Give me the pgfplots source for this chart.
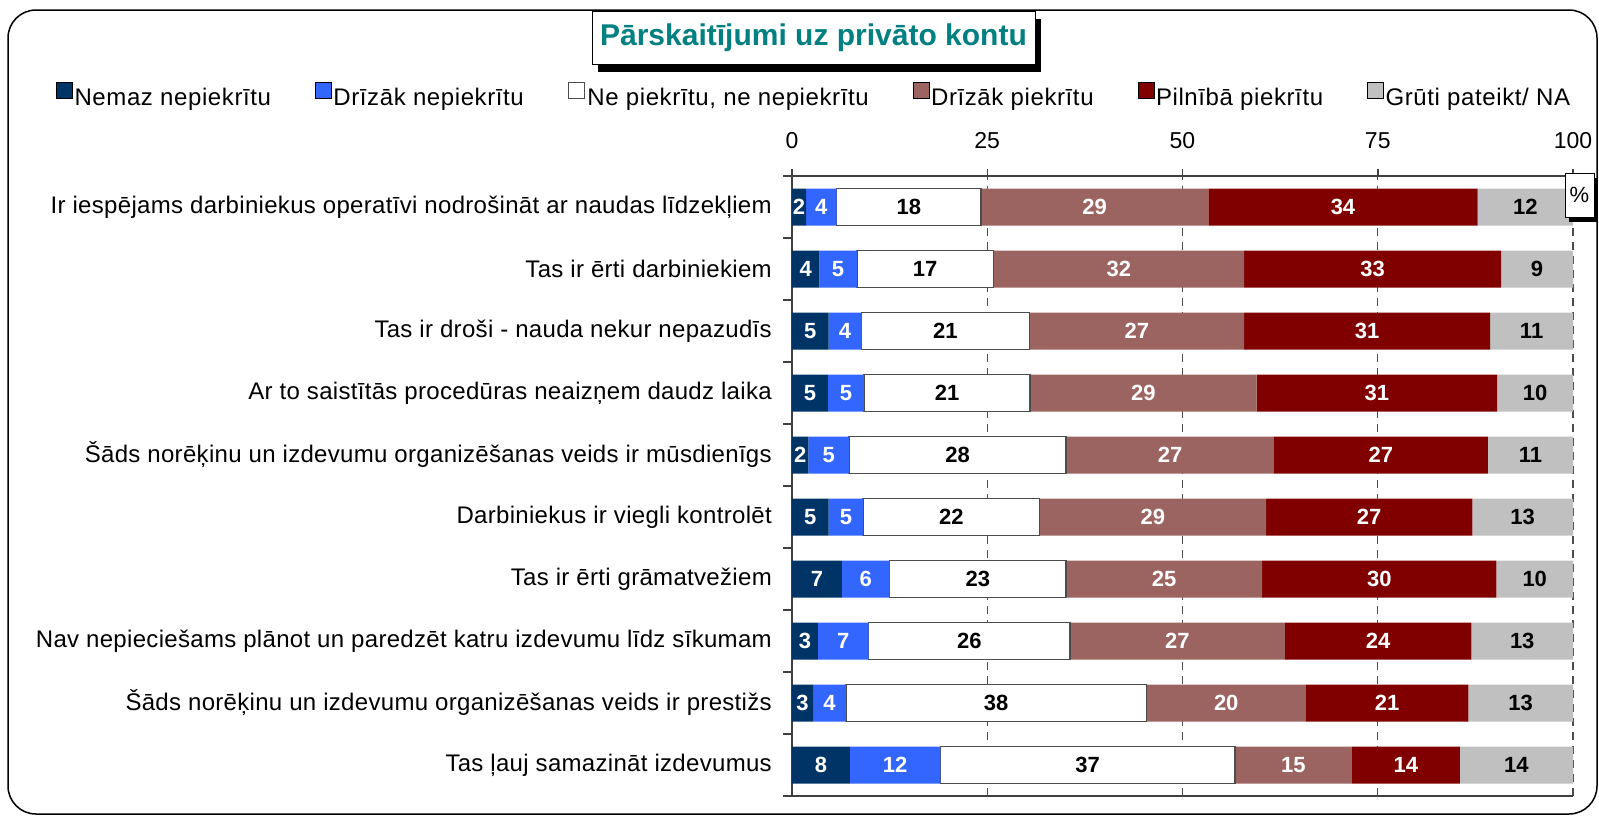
\documentclass[border=0pt]{standalone}
\usepackage{pgfplots}
\pgfplotsset{compat=1.18}
\usepackage{pgfplotstable}
\usepackage{fontspec}
\setmainfont{Liberation Sans}

\definecolor{c1}{HTML}{003366}
\definecolor{c2}{HTML}{3366FF}
\definecolor{c4}{HTML}{9C6461}
\definecolor{c5}{HTML}{800000}
\definecolor{c6}{HTML}{C0C0C0}
\definecolor{titlec}{HTML}{008080}

% idx: 10 = top row
\pgfplotstableread{
idx a b c d e f la lb lc ld le lf
10 1.8 3.9 18.5 29.1 34.5 12.2 2 4 18 29 34 12
9 3.5 4.8 17.5 32.1 32.9 9.2 4 5 17 32 33 9
8 4.7 4.2 21.5 27.5 31.5 10.6 5 4 21 27 31 11
7 4.6 4.6 21.3 29.0 30.8 9.7 5 5 21 29 31 10
6 2.1 5.2 27.8 26.6 27.4 10.9 2 5 28 27 27 11
5 4.7 4.4 22.6 29.0 26.4 12.9 5 5 22 29 27 13
4 6.4 6.1 22.6 25.1 30.0 9.8 7 6 23 25 30 10
3 3.3 6.5 25.8 27.5 23.9 13.0 3 7 26 27 24 13
2 2.7 4.2 38.5 20.4 20.8 13.4 3 4 38 20 21 13
1 7.4 11.6 37.7 15.0 13.8 14.5 8 12 37 15 14 14
}\data

\pgfplotsset{
  seg/.style n args={2}{
    draw=none,
    nodes near coords,
    point meta=explicit symbolic,
    every node near coord/.append style={anchor=center,
      text=#2, font=\fontsize{22}{26}\selectfont\bfseries},
  },
  sq/.style={legend image code/.code={\draw[##1] (0pt,-1pt) rectangle (16pt,15pt);}},
}

\begin{document}
\begin{tikzpicture}[x=1pt,y=1pt]
\useasboundingbox (0,0) rectangle (1599,-817);
\draw[line width=1.5pt, rounded corners=28pt] (8,-10) rectangle (1597,-814);

\begin{axis}[
  at={(792pt,-176pt)}, anchor=north west,
  scale only axis, width=781pt, height=620pt,
  xbar stacked, bar width=37pt,
  xmin=0, xmax=100, ymin=0.5, ymax=10.5,
  xtick={0,25,50,75,100}, xtick pos=right, xticklabel pos=right,
  xticklabel style={font=\fontsize{23}{27}\selectfont, inner sep=0pt, anchor=base, yshift=21pt},
  /pgf/number format/assume math mode=true,
  ytick={1,...,10}, ytick pos=left,
  yticklabels={
    Tas ļauj samazināt izdevumus,
    Šāds norēķinu un izdevumu organizēšanas veids ir prestižs,
    Nav nepieciešams plānot un paredzēt katru izdevumu līdz sīkumam,
    Tas ir ērti grāmatvežiem,
    Darbiniekus ir viegli kontrolēt,
    Šāds norēķinu un izdevumu organizēšanas veids ir mūsdienīgs,
    Ar to saistītās procedūras neaizņem daudz laika,
    Tas ir droši - nauda nekur nepazudīs,
    Tas ir ērti darbiniekiem,
    Ir iespējams darbiniekus operatīvi nodrošināt ar naudas līdzekļiem},
  yticklabel style={font=\fontsize{24}{28}\selectfont\addfontfeatures{LetterSpace=1.3},
    inner sep=0pt, anchor=east, xshift=-13pt},
  minor ytick={0.5,1.5,...,10.5},
  major y tick style={draw=none},
  minor y tick style={line width=1.5pt, black!75},
  major x tick style={line width=1.5pt, black!75},
  major tick length=7pt, minor tick length=9pt, tick align=outside,
  xmajorgrids,
  major x grid style={dash pattern=on 8pt off 6pt, line width=1.3pt, black!70},
  axis line style={draw=none},
  clip=false,
  legend columns=6,
  legend style={at={(axis description cs:-0.9424,1.1306)}, anchor=west, draw=none, fill=none,
    inner sep=0pt, font=\fontsize{24}{28}\selectfont\addfontfeatures{LetterSpace=2.5},
    nodes={inner sep=1pt},
    /tikz/every odd column/.append style={column sep=1pt},
    /tikz/every even column/.append style={column sep=43pt}},
]
\addplot[fill=c1, sq, seg={a}{white}] table[x=a, y=idx, meta=la] {\data};
\addlegendentry{Nemaz nepiekrītu}
\addplot[fill=c2, sq, seg={b}{white}] table[x=b, y=idx, meta=lb] {\data};
\addlegendentry{Drīzāk nepiekrītu}
\addplot[fill=white, sq, seg={c}{black}, draw=black!70, line width=1.5pt] table[x=c, y=idx, meta=lc] {\data};
\addlegendentry{Ne piekrītu, ne nepiekrītu}
\addplot[fill=c4, sq, seg={d}{white}] table[x=d, y=idx, meta=ld] {\data};
\addlegendentry{Drīzāk piekrītu}
\addplot[fill=c5, sq, seg={e}{white}] table[x=e, y=idx, meta=le] {\data};
\addlegendentry{Pilnībā piekrītu}
\addplot[fill=c6, sq, seg={f}{black}] table[x=f, y=idx, meta=lf] {\data};
\addlegendentry{Grūti pateikt/ NA}
\draw[line width=1.5pt, black!75] (rel axis cs:0,0) -- (rel axis cs:0,1) -- (rel axis cs:1,1);
\draw[line width=1.5pt, black!75] (rel axis cs:0,0) -- (rel axis cs:1,0);
\end{axis}

% title with shadow
\fill[black] (598,-19) rectangle (1041,-72);
\node[draw=black, line width=1pt, fill=white, minimum width=443pt, minimum height=53pt,
  inner sep=0pt, font=\fontsize{30}{36}\selectfont\bfseries, text=titlec]
  at (813.5,-37.5) {Pārskaitījumi uz privāto kontu};
% percent box with shadow
\fill[black] (1569,-178) rectangle (1598,-222);
\node[draw=black, line width=1pt, fill=white, minimum width=29pt, minimum height=44pt,
  inner sep=0pt, font=\fontsize{22}{26}\selectfont] at (1579.5,-195) {\%};
\end{tikzpicture}
\end{document}
